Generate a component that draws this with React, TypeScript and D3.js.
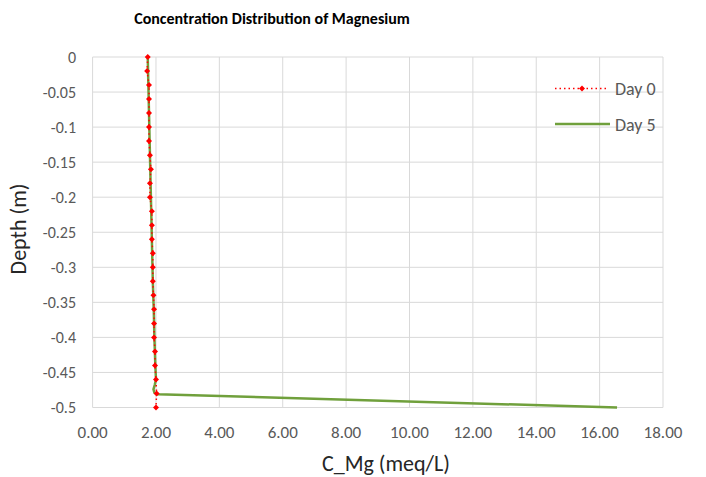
import React from 'react';
import * as d3 from 'd3';

const depths = [0, -0.02, -0.04, -0.06, -0.08, -0.1, -0.12, -0.14, -0.16, -0.18, -0.2, -0.22, -0.24,
  -0.26, -0.28, -0.3, -0.32, -0.34, -0.36, -0.38, -0.4, -0.42, -0.44, -0.46, -0.48, -0.5];
const day0 = [1.74, 1.72, 1.78, 1.78, 1.78, 1.78, 1.78, 1.81, 1.84, 1.81, 1.81, 1.87, 1.87,
  1.87, 1.9, 1.9, 1.9, 1.92, 1.94, 1.94, 1.94, 1.97, 1.97, 2.0, 2.02, 2.0];

const day5Depth = [0, -0.04, -0.08, -0.12, -0.16, -0.2, -0.24, -0.28, -0.32, -0.36, -0.4, -0.44,
  -0.46, -0.468, -0.474, -0.479, -0.481, -0.5];
const day5 = [1.74, 1.76, 1.78, 1.8, 1.82, 1.84, 1.86, 1.88, 1.9, 1.93, 1.95, 1.98,
  2.0, 1.96, 1.92, 1.95, 2.05, 16.55];

const xTicks = [0, 2, 4, 6, 8, 10, 12, 14, 16, 18];
const yTicks = [0, -0.05, -0.1, -0.15, -0.2, -0.25, -0.3, -0.35, -0.4, -0.45, -0.5];

export default function App() {
  const width = 706;
  const height = 477;
  const left = 92.6;
  const right = 663;
  const top = 57;
  const bottom = 407.5;

  const x = d3.scaleLinear().domain([0, 18]).range([left, right]);
  const y = d3.scaleLinear().domain([-0.5, 0]).range([bottom, top]);

  const font = "Calibri, Carlito, 'Open Sans', 'Liberation Sans', sans-serif";
  const gray = '#595959';

  const line0 = d3.line<number>()
    .x((d) => x(d))
    .y((d, i) => y(depths[i]));
  const line5 = d3.line<number>()
    .x((d) => x(d))
    .y((d, i) => y(day5Depth[i]));

  const diamond = (cx: number, cy: number, r: number) =>
    `M${cx},${cy - r}L${cx + r},${cy}L${cx},${cy + r}L${cx - r},${cy}Z`;

  return (
    <svg width={width} height={height} style={{ position: 'absolute', left: 0, top: 0 }}>
      <rect width={width} height={height} fill="#fff" />
      <text x={272} y={24} textAnchor="middle" fontFamily={font} fontWeight="bold" fontSize={16} fill="#000">
        Concentration Distribution of Magnesium
      </text>

      {yTicks.map((t) => (
        <line key={'gy' + t} x1={left} x2={right} y1={y(t)} y2={y(t)} stroke="#d9d9d9" strokeWidth={1} />
      ))}
      {xTicks.map((t) => (
        <line key={'gx' + t} x1={x(t)} x2={x(t)} y1={top} y2={bottom} stroke="#d9d9d9" strokeWidth={1} />
      ))}

      {yTicks.map((t) => (
        <text key={'ty' + t} x={76} y={y(t)} dy="0.35em" textAnchor="end" fontFamily={font} fontSize={16} fill={gray}>
          {t === 0 ? '0' : String(t)}
        </text>
      ))}
      {xTicks.map((t) => (
        <text key={'tx' + t} x={x(t)} y={438} textAnchor="middle" fontFamily={font} fontSize={17} fill={gray}>
          {t.toFixed(2)}
        </text>
      ))}

      <text x={386} y={471} textAnchor="middle" fontFamily={font} fontSize={22} fill="#262626">
        C_Mg (meq/L)
      </text>
      <text transform={`translate(26, ${229}) rotate(-90)`} textAnchor="middle" fontFamily={font} fontSize={22} fill="#262626">
        Depth (m)
      </text>

      <path d={line5(day5) || ''} fill="none" stroke="#70a03c" strokeWidth={2.5} strokeLinejoin="round" />
      <path d={line0(day0) || ''} fill="none" stroke="#ff0000" strokeWidth={1.5} strokeDasharray="1.5 3" />
      {day0.map((v, i) => (
        <path key={'m' + i} d={diamond(x(v), y(depths[i]), 3)} fill="#ff0000" />
      ))}

      <line x1={555} x2={609} y1={88.5} y2={88.5} stroke="#ff0000" strokeWidth={1.5} strokeDasharray="1.5 3" />
      <path d={diamond(582, 88.5, 3)} fill="#ff0000" />
      <text x={615} y={89} dy="0.35em" fontFamily={font} fontSize={18} fill={gray}>Day 0</text>
      <line x1={555} x2={610} y1={124} y2={124} stroke="#70a03c" strokeWidth={2.5} />
      <text x={615} y={124.5} dy="0.35em" fontFamily={font} fontSize={18} fill={gray}>Day 5</text>
    </svg>
  );
}
